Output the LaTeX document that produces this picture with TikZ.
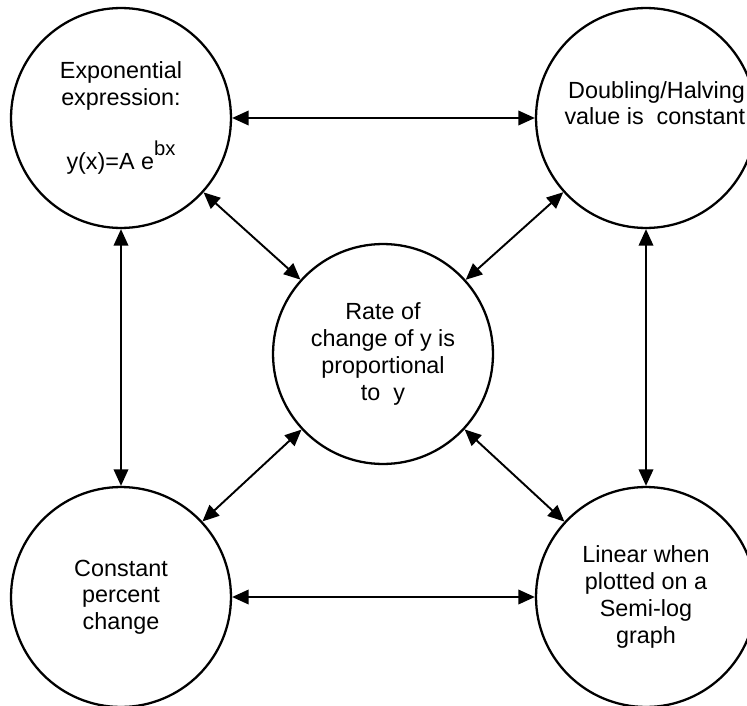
\documentclass[tikz,border=0pt]{standalone}
\usepackage{fontspec}
\setmainfont{Liberation Sans}
\usetikzlibrary{arrows.meta}
\begin{document}
\begin{tikzpicture}[x=0.02cm,y=-0.02cm,
  bubble/.style={circle,draw=black,line width=1.3pt,minimum size=4.4cm,inner sep=0pt,
    align=center,font=\fontsize{13.3}{15.2}\selectfont},
  link/.style={line width=1.1pt,{Triangle[length=0.33cm,width=0.29cm]}-{Triangle[length=0.33cm,width=0.29cm]}}]
\useasboundingbox (0,0) rectangle (747,706);
\clip (0,0) rectangle (747,706);
\node[bubble] (tl) at (121,118) {Exponential\\expression:\\[16pt]y(x)=A e\raisebox{0.6em}{\fontsize{11.5}{12}\selectfont bx}};
\node[bubble] (tr) at (646,118) {\hspace*{12pt}Doubling/Halving\\\hspace*{10pt}value is\ \ constant\\[2pt]};
\node[bubble] (c) at (383,354) {Rate of\\change of y is\\proportional\\to\ \ y};
\node[bubble] (bl) at (121,597) {Constant\\percent\\change};
\node[bubble] (br) at (646,597) {Linear when\\plotted on a\\Semi-log\\graph};
\draw[link] (tl) -- (tr);
\draw[link] (bl) -- (br);
\draw[link] (tl) -- (bl);
\draw[link] (tr) -- (br);
\draw[link] (tl) -- (c);
\draw[link] (tr) -- (c);
\draw[link] (bl) -- (c);
\draw[link] (br) -- (c);
\end{tikzpicture}
\end{document}
